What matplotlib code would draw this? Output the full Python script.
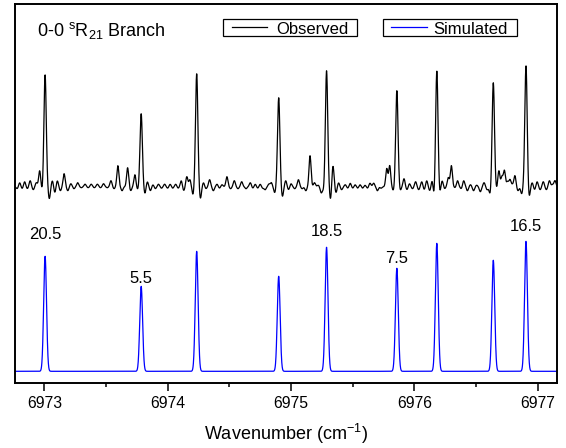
import numpy as np
import matplotlib
matplotlib.use("Agg")
import matplotlib.pyplot as plt
from matplotlib.patches import Rectangle
from matplotlib.lines import Line2D

plt.rcParams['font.family'] = ['Liberation Sans', 'DejaVu Sans']
plt.rcParams['mathtext.default'] = 'regular'

# ---------------- data ----------------
# line positions (cm^-1)
peak_pos = [6973.006, 6973.785, 6974.235, 6974.900, 6975.288,
            6975.858, 6976.182, 6976.640, 6976.905]
# peak heights above baseline (same units as the plot's y range)
obs_height = [112, 73, 113, 89, 116, 96, 116, 104, 121]
sim_height = [115, 85, 120, 95, 124, 103, 128, 111, 130]

obs_baseline = 196.6
sim_baseline = 12.0

# small features / ringing in the observed trace (position, amplitude)
wiggle_pos = [
    6972.780, 6972.800, 6972.820, 6972.840, 6972.862, 6972.885, 6972.910,
    6972.935, 6972.962, 6972.985,
    6973.040, 6973.065, 6973.085, 6973.105, 6973.130, 6973.160, 6973.190,
    6973.215, 6973.240, 6973.270, 6973.300, 6973.330, 6973.355, 6973.380,
    6973.405, 6973.430, 6973.455, 6973.480, 6973.510, 6973.540,
    6973.565, 6973.596, 6973.630, 6973.675, 6973.700, 6973.734, 6973.757,
    6973.815, 6973.835, 6973.860, 6973.880, 6973.900, 6973.925, 6973.950,
    6973.975, 6974.000, 6974.020, 6974.040, 6974.065, 6974.085,
    6974.110, 6974.130, 6974.155, 6974.180, 6974.205,
    6974.265, 6974.290, 6974.310, 6974.340, 6974.370, 6974.400, 6974.420,
    6974.440, 6974.480, 6974.510, 6974.540, 6974.570, 6974.600, 6974.635,
    6974.670, 6974.690, 6974.710, 6974.730, 6974.750, 6974.770, 6974.790,
    6974.820, 6974.840, 6974.868,
    6974.930, 6974.957, 6974.980, 6975.000, 6975.030, 6975.060, 6975.090,
    6975.120, 6975.154, 6975.190, 6975.220, 6975.245, 6975.265,
    6975.320, 6975.340, 6975.365, 6975.385, 6975.410, 6975.440, 6975.460,
    6975.480, 6975.500, 6975.520, 6975.540, 6975.560, 6975.580, 6975.600,
    6975.620, 6975.640, 6975.670, 6975.700, 6975.730, 6975.776,
    6975.800, 6975.830,
    6975.885, 6975.916, 6975.940, 6975.960, 6975.985, 6976.010, 6976.035,
    6976.060, 6976.080, 6976.100, 6976.125, 6976.145, 6976.160,
    6976.205, 6976.225, 6976.245, 6976.275, 6976.300, 6976.330, 6976.350,
    6976.380, 6976.400, 6976.430, 6976.455, 6976.480, 6976.505, 6976.535,
    6976.565, 6976.590, 6976.615,
    6976.665, 6976.685, 6976.710, 6976.730, 6976.755, 6976.775, 6976.795,
    6976.815, 6976.840, 6976.870,
    6976.930, 6976.955, 6976.975, 6976.995, 6977.020, 6977.045, 6977.070,
    6977.095, 6977.120, 6977.140,
]
wiggle_amp = [
    -2, 4, -2, 5, -2, 6, -3,
    4, 16, -5,
    -12, 6, -6, 6, -4, 13, -4,
    3, -2, 4, -1, 2.5, -1, 2.5,
    -1, 2.5, -1, 3, -1, 6,
    -2, 21, -4, 19, -4, 12, -3,
    -7, 5, -4, 2, -2, 2.5, -1.5,
    2.5, -1.5, 2.5, -1.5, 2.5, -1.5,
    6, -4, 10, 7, -8,
    -12, 4, -2, 7, -4, 2.5, -1.5,
    2, 10, -2, 6, -2, 5, -2,
    4, -1.5, 2.5, -1.5, 2.5, -1.5, -3,
    2.5, 4, -6,
    -10, 6, -3, 3, -2, 7, -2,
    -4, 31, 4, 1.5, -6, -4,
    -13, 21, -6, 4, -3, 2, -1.5,
    3.5, -1.5, 2, -1.5, 2, -1.5, 1.5,
    -1.5, 3.5, 3.5, -4, -1.5, 18,
    21, -4,
    -4, 8, -3, 3, -2, 5, -3,
    5, -3, 6, -4, 7, -11,
    -7, 6, -2, 9, 21, -1, 6,
    -2, 6, -4, 2, -4, 1.5, -5,
    4, -3, -8,
    -3, 16, 10, 16, 5, 7, 2,
    11, -4, -7,
    -11, 4, -3, 5, -3, 5, -3,
    6, 2, 6,
]

# J labels above selected simulated lines
label_text = ["20.5", "5.5", "18.5", "7.5", "16.5"]
label_peak = [0, 1, 4, 5, 8]
label_y = [144, 100, 147.3, 120, 152.3]

xticks = [6973, 6974, 6975, 6976, 6977]

# ---------------- build traces ----------------
x = np.linspace(6972.762, 6977.154, 5000)


def gauss(xx, c, a, s):
    return a * np.exp(-0.5 * ((xx - c) / s) ** 2)


obs = np.full_like(x, obs_baseline)
for c, a in zip(peak_pos, obs_height):
    obs += gauss(x, c, a, 0.0095)
for c, a in zip(wiggle_pos, wiggle_amp):
    obs += gauss(x, c, a, 0.0082)

sim = np.full_like(x, sim_baseline)
for c, a in zip(peak_pos, sim_height):
    sim += gauss(x, c, a, 0.0115)

# ---------------- figure ----------------
fig = plt.figure(figsize=(5.66, 4.48), dpi=100)
ax = fig.add_axes([15 / 566, 1 - 383.3 / 448, 541.7 / 566, 379.3 / 448])

ax.plot(x, obs, color='black', lw=0.9)
ax.plot(x, sim, color='#0000ff', lw=0.9)

for t, i, yy in zip(label_text, label_peak, label_y):
    ax.text(peak_pos[i], yy, t, ha='center', va='baseline', fontsize=12)

ax.set_xlim(6972.762, 6977.154)
ax.set_ylim(0, 379.3)
ax.set_yticks([])
ax.set_xticks(xticks)
ax.set_xticklabels([str(v) for v in xticks])
ax.set_xticks(np.arange(6973.5, 6977, 1.0), minor=True)
ax.tick_params(axis='x', which='major', direction='out', length=6, width=1.1,
               pad=3.5, labelsize=11.3)
ax.tick_params(axis='x', which='minor', direction='out', length=3, width=1.1)
for sp in ax.spines.values():
    sp.set_linewidth(1.4)
    sp.set_color('black')

ax.set_xlabel('Wavenumber (cm$^{-1}$)', fontsize=13)
ax.xaxis.label.set_va('baseline')
ax.xaxis.set_label_coords(0.5, -0.1495)

# title text
ax.text(0.0414, 0.9157, '0-0 $^{s}$R$_{21}$ Branch', transform=ax.transAxes,
        ha='left', va='baseline', fontsize=13)

# two separate legend boxes
legend_items = [("Observed", 'black', 0.3834, 0.6308, 0.4000, 0.4646, 0.4818),
                ("Simulated", '#0000ff', 0.6798, 0.9262, 0.6936, 0.7600, 0.7716)]
for name, col, bx0, bx1, lx0, lx1, tx in legend_items:
    ax.add_patch(Rectangle((bx0, 0.9157), bx1 - bx0, 0.9597 - 0.9157,
                           transform=ax.transAxes, fill=True, facecolor='white',
                           edgecolor='black', lw=0.9, zorder=5))
    ax.add_line(Line2D([lx0, lx1], [0.9386, 0.9386], transform=ax.transAxes,
                       color=col, lw=0.9, zorder=6))
    ax.text(tx, 0.9209, name, transform=ax.transAxes, ha='left',
            va='baseline', fontsize=12, zorder=6)

fig.savefig('out.png', dpi=100)
